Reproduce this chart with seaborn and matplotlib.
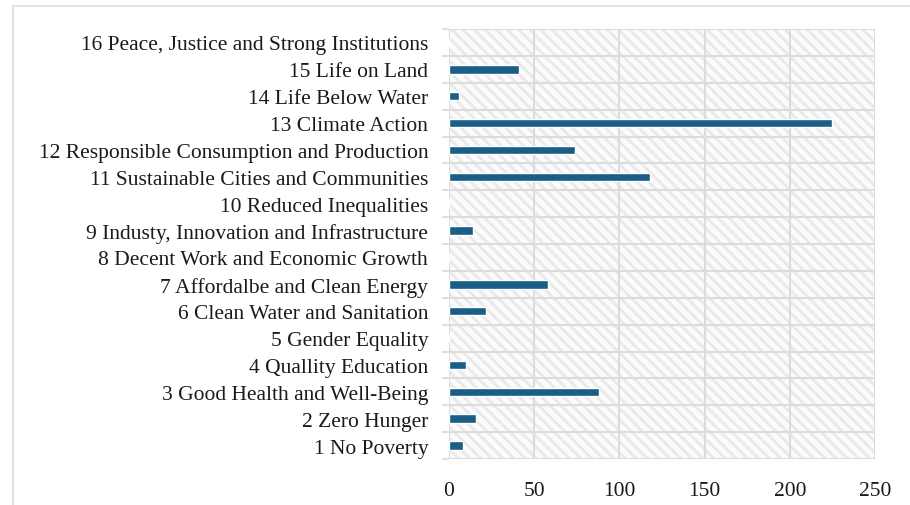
import matplotlib
matplotlib.use("Agg")
import matplotlib.pyplot as plt
import matplotlib.patches as mpatches
import seaborn as sns
import pandas as pd
from matplotlib.ticker import FixedLocator

categories = [
    "16 Peace, Justice and Strong Institutions",
    "15 Life on Land",
    "14 Life Below Water",
    "13 Climate Action",
    "12 Responsible Consumption and Production",
    "11 Sustainable Cities and Communities",
    "10 Reduced Inequalities",
    "9 Industy, Innovation and Infrastructure",
    "8 Decent Work and Economic Growth",
    "7 Affordalbe and Clean Energy",
    "6 Clean Water and Sanitation",
    "5 Gender Equality",
    "4 Quallity Education",
    "3 Good Health and Well-Being",
    "2 Zero Hunger",
    "1 No Poverty",
]
values = [0, 41, 6, 225, 74, 118, 0, 14, 0, 58, 22, 0, 10, 88, 16, 8]
x_ticks = [0, 50, 100, 150, 200, 250]

df = pd.DataFrame({"goal": categories, "count": values})

sns.set_theme(style="white")
plt.rcParams["font.family"] = ["Liberation Serif", "DejaVu Serif"]
plt.rcParams["hatch.linewidth"] = 2.0

fig = plt.figure(figsize=(9.10, 5.06), dpi=100)
ax = fig.add_axes([449 / 910, 1 - 460 / 506, (875 - 449) / 910, (460 - 30) / 506])

# hatched background
ax.patch.set_facecolor("#fbfbfb")
ax.patch.set_edgecolor("#e9e9e9")
ax.patch.set_linewidth(0)
ax.patch.set_hatch("\\\\\\")

sns.barplot(data=df, y="goal", x="count", orient="h", color="#1b5e85",
            width=0.32, saturation=1, ax=ax, zorder=3)

ax.set_xlim(0, 250)
ax.set_ylim(len(categories) - 0.5, -0.5)
ax.xaxis.set_major_locator(FixedLocator(x_ticks))
ax.set_xticklabels([str(t) for t in x_ticks])
ax.yaxis.set_minor_locator(FixedLocator([i - 0.5 for i in range(len(categories) + 1)]))

ax.set_axisbelow(True)
ax.grid(True, axis="x", which="major", color="#dcdcdc", linewidth=1.5)
ax.grid(True, axis="y", which="minor", color="#dcdcdc", linewidth=1.5)
ax.grid(False, axis="y", which="major")

for s in ax.spines.values():
    s.set_visible(False)

ax.tick_params(axis="y", which="major", length=0, pad=15, labelsize=15.5, labelcolor="#1a1a1a")
ax.tick_params(axis="y", which="minor", length=5, width=1.2, color="#d9d9d9", direction="out", left=True)
ax.tick_params(axis="x", which="major", length=0, pad=16, labelsize=15.5, labelcolor="#1a1a1a")

ax.set_xlabel("")
ax.set_ylabel("")

# outer chart frame (light grey, partially cropped)
frame = mpatches.Rectangle((13 / 910, -0.2), 1.5, 1.2 - 7 / 506,
                           transform=fig.transFigure, fill=False,
                           edgecolor="#e3e3e3", linewidth=1.5)
fig.add_artist(frame)

fig.savefig("out.png", dpi=100)
